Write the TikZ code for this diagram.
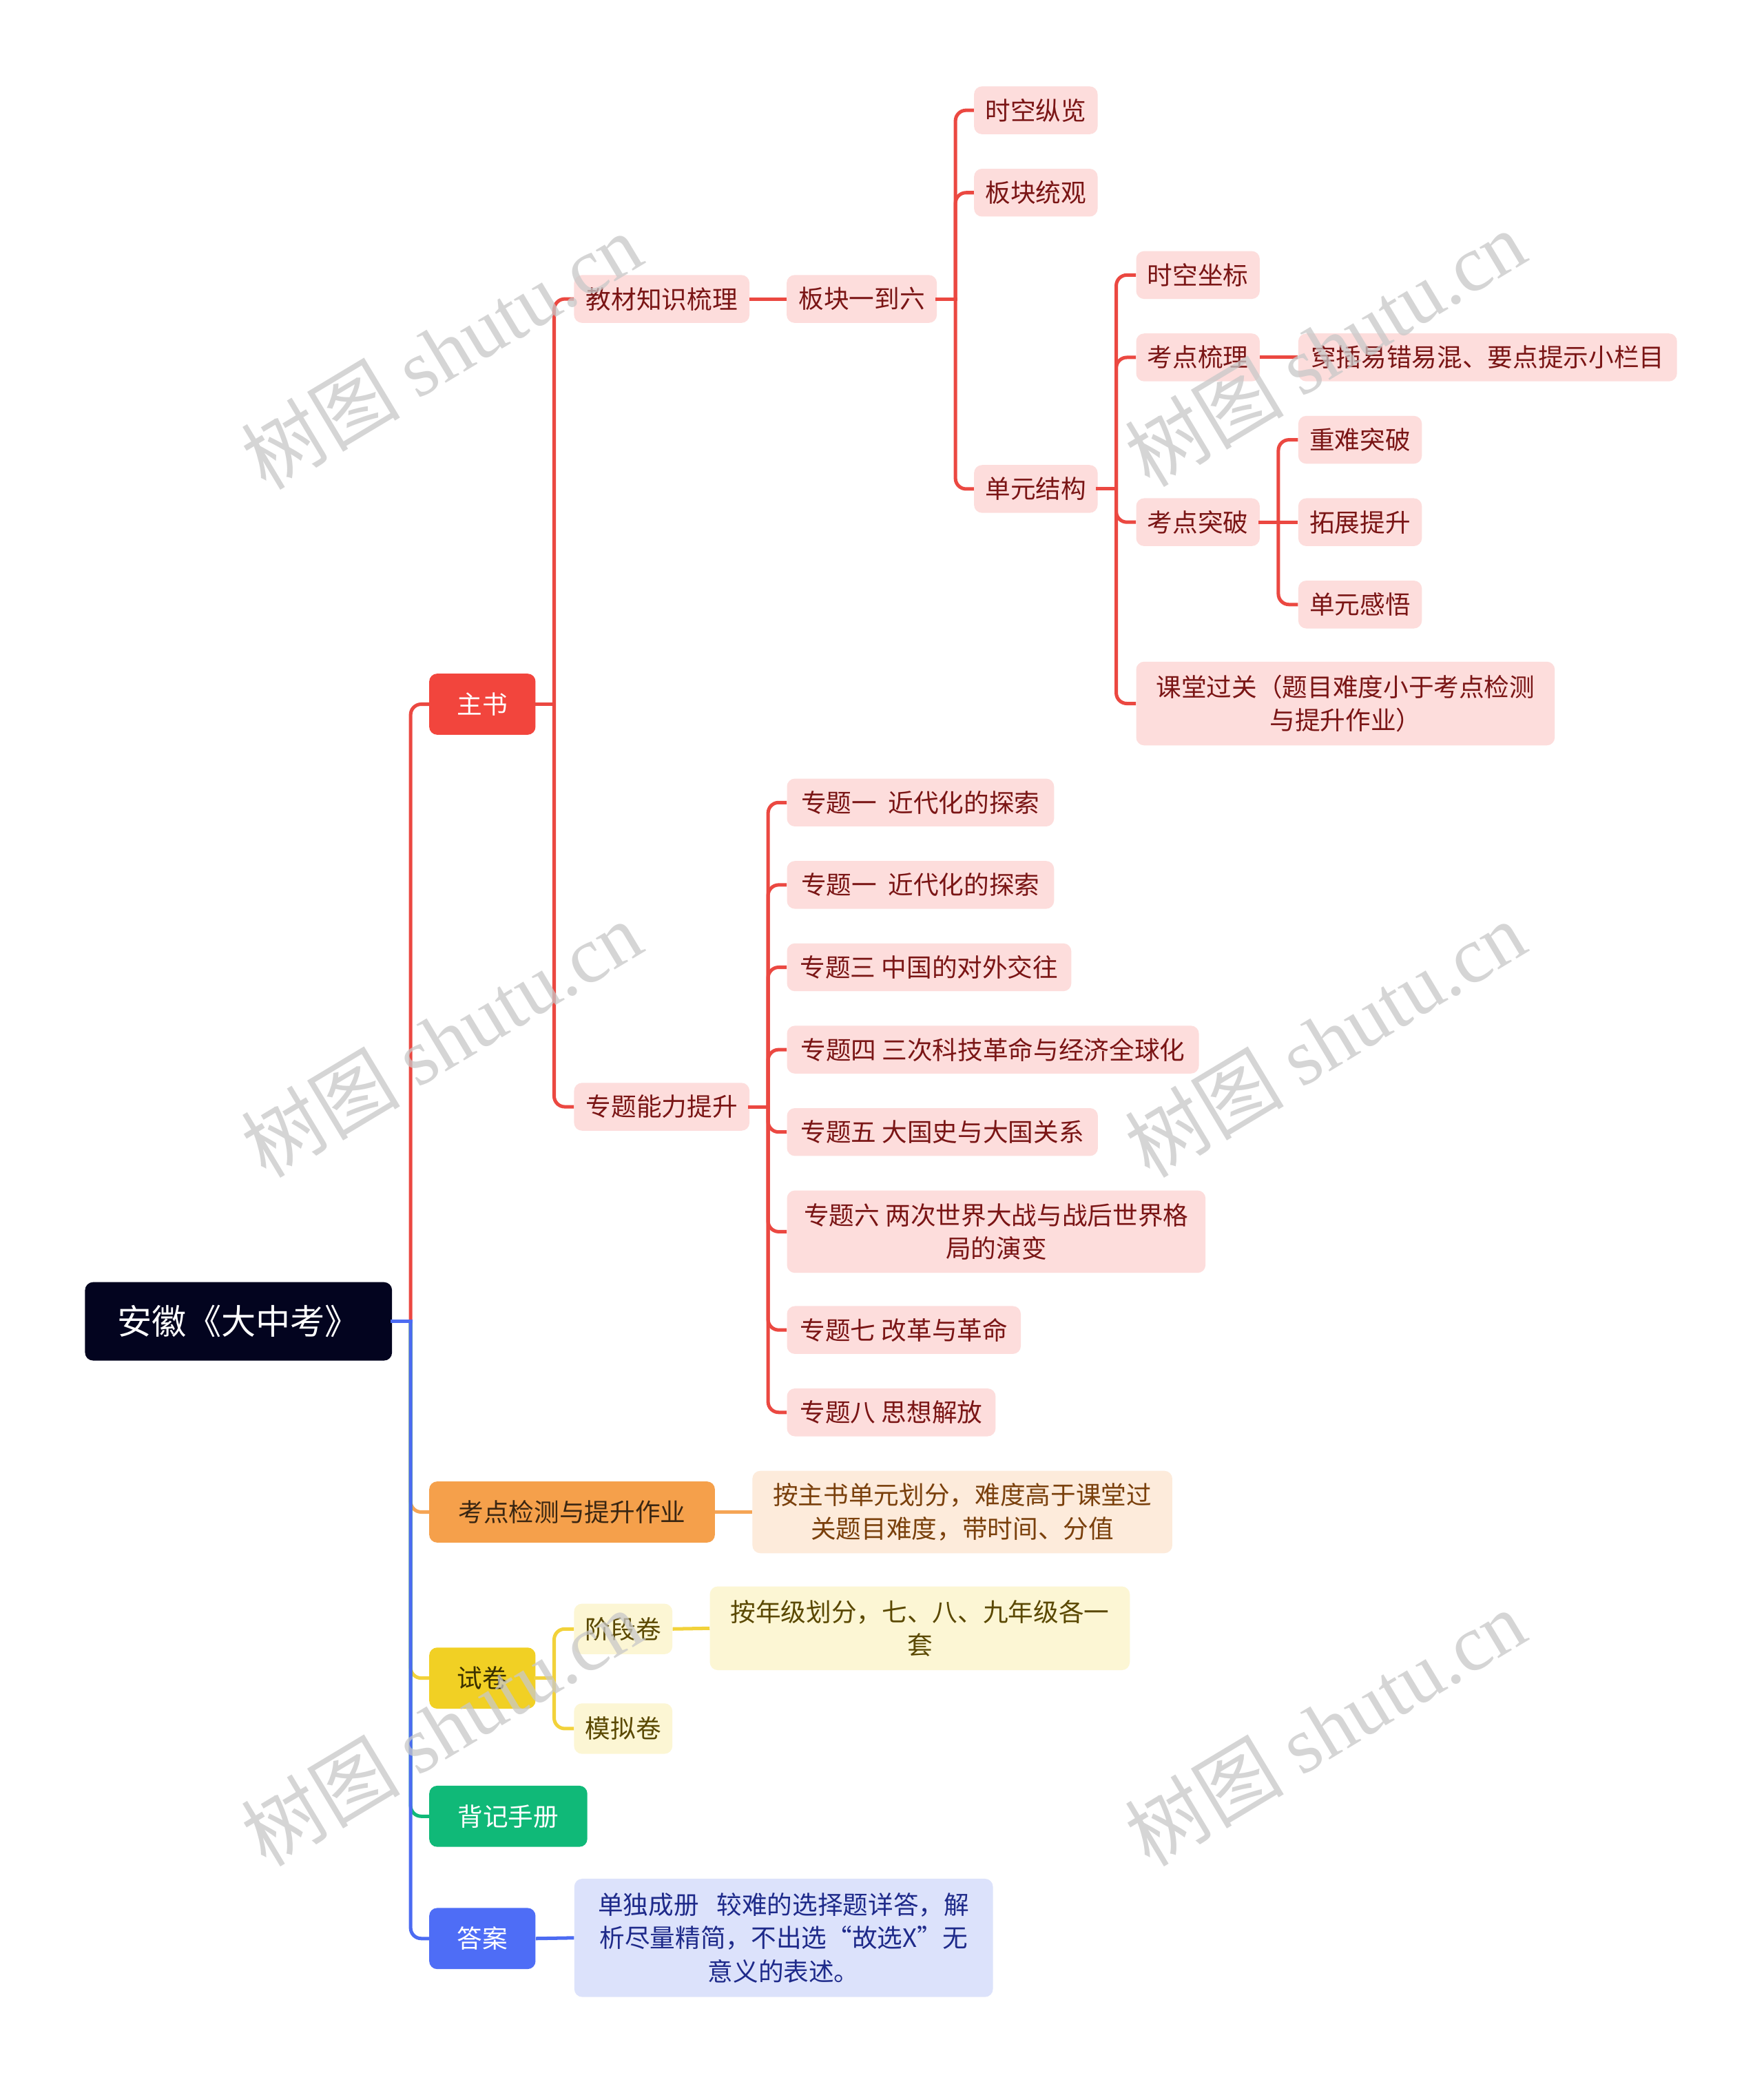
\documentclass[tikz,border=0pt]{standalone}
\usepackage{fontspec}
\setmainfont{Noto Sans CJK SC}
\newfontfamily\wmlat{Liberation Serif}
\definecolor{redE}{HTML}{EB4841}
\definecolor{redF}{HTML}{F2453D}
\definecolor{pinkF}{HTML}{FDDDDC}
\definecolor{pinkT}{HTML}{7A1515}
\definecolor{orangeE}{HTML}{F5A556}
\definecolor{orangeF}{HTML}{F5A04B}
\definecolor{orangeT}{HTML}{3A2612}
\definecolor{peachF}{HTML}{FDEBDB}
\definecolor{peachT}{HTML}{7A400C}
\definecolor{yellowE}{HTML}{F2D23A}
\definecolor{yellowF}{HTML}{F1D024}
\definecolor{yellowT}{HTML}{3A3000}
\definecolor{lyF}{HTML}{FCF6D4}
\definecolor{lyT}{HTML}{5A4800}
\definecolor{greenF}{HTML}{10B978}
\definecolor{blueE}{HTML}{4C6BF2}
\definecolor{blueF}{HTML}{4E6DF6}
\definecolor{lbF}{HTML}{DCE2FB}
\definecolor{lbT}{HTML}{1E2A8A}
\definecolor{rootF}{HTML}{03041F}
\definecolor{wmC}{HTML}{C8C8C8}
\newcommand\fs{\fontsize{19pt}{25pt}\selectfont}
\tikzset{
  box/.style={rounded corners=6pt, inner sep=0pt, align=center, font=\fs},
  pk/.style={box, fill=pinkF, text=pinkT, minimum height=36pt},
  lv1/.style={box, minimum height=46pt},
  edge/.style={line width=2.6pt, rounded corners=8pt},
  stub/.style={line width=2.6pt, line cap=rect},
  wm/.style={text=wmC, opacity=0.75, rotate=31, font=\fontsize{60pt}{62pt}\selectfont, inner sep=0pt}
}
\begin{document}
\begin{tikzpicture}[x=1pt,y=-1pt]
\useasboundingbox (0,0) rectangle (1327,1568.5);
\fill[white] (0,0) rectangle (1327,1568.5);

% root and level 1
\node[box, fill=rootF, text=white, minimum width=231pt, minimum height=59pt, font=\fontsize{26pt}{30pt}\selectfont] (root) at (179.5,994.5) {安徽《大中考》};
\node[lv1, fill=redF, text=white, minimum width=80pt] (zs) at (363,530) {主书};
\node[lv1, fill=orangeF, text=orangeT, minimum width=215pt] (kd) at (430.5,1138) {考点检测与提升作业};
\node[lv1, fill=yellowF, text=yellowT, minimum width=80pt] (sj) at (363,1263) {试卷};
\node[lv1, fill=greenF, text=white, minimum width=119pt] (bj) at (382.5,1367) {背记手册};
\node[lv1, fill=blueF, text=white, minimum width=80pt] (da) at (363,1459) {答案};

% 主书 subtree
\node[pk, minimum width=132pt] (jc) at (498,225) {教材知识梳理};
\node[pk, minimum width=132pt] (zt) at (498,833) {专题能力提升};
\node[pk, minimum width=113pt] (bk) at (648.5,225) {板块一到六};
\node[pk, minimum width=93pt] (sk) at (779.5,83) {时空纵览};
\node[pk, minimum width=93pt] (bt) at (779.5,145) {板块统观};
\node[pk, minimum width=93pt] (dy) at (779.5,368) {单元结构};
\node[pk, minimum width=93pt] (zb) at (901.5,207) {时空坐标};
\node[pk, minimum width=93pt] (sl) at (901.5,269) {考点梳理};
\node[pk, minimum width=285pt] (cc) at (1119.5,269) {穿插易错易混、要点提示小栏目};
\node[pk, minimum width=93pt] (tp) at (901.5,393) {考点突破};
\node[pk, minimum width=93pt] (zn) at (1023.5,331) {重难突破};
\node[pk, minimum width=93pt] (tz) at (1023.5,393) {拓展提升};
\node[pk, minimum width=93pt] (dg) at (1023.5,455) {单元感悟};
\node[pk, minimum width=315pt, minimum height=63pt] (kt) at (1012.5,529.5) {课堂过关（题目难度小于考点检测\\与提升作业）};

\node[pk, anchor=west, minimum width=201pt] (z1) at (592,604) {专题一~~近代化的探索};
\node[pk, anchor=west, minimum width=201pt] (z2) at (592,666) {专题一~~近代化的探索};
\node[pk, anchor=west, minimum width=214pt] (z3) at (592,728) {专题三 中国的对外交往};
\node[pk, anchor=west, minimum width=310pt] (z4) at (592,790) {专题四 三次科技革命与经济全球化};
\node[pk, anchor=west, minimum width=234pt] (z5) at (592,852) {专题五 大国史与大国关系};
\node[pk, anchor=west, minimum width=315pt, minimum height=62pt] (z6) at (592,927) {专题六 两次世界大战与战后世界格\\局的演变};
\node[pk, anchor=west, minimum width=176pt] (z7) at (592,1001) {专题七 改革与革命};
\node[pk, anchor=west, minimum width=157pt] (z8) at (592,1063) {专题八 思想解放};

% other subtrees
\node[box, anchor=west, fill=peachF, text=peachT, minimum width=316pt, minimum height=62pt] (kdn) at (566,1138) {按主书单元划分，难度高于课堂过\\关题目难度，带时间、分值};
\node[box, fill=lyF, text=lyT, minimum width=74pt, minimum height=38pt] (jd) at (469,1226) {阶段卷};
\node[box, fill=lyF, text=lyT, minimum width=74pt, minimum height=38pt] (mn) at (469,1301) {模拟卷};
\node[box, anchor=west, fill=lyF, text=lyT, minimum width=316pt, minimum height=63pt] (jdn) at (534,1225.5) {按年级划分，七、八、九年级各一\\套};
\node[box, anchor=west, fill=lbF, text=lbT, minimum width=315pt, minimum height=89pt] (dan) at (432,1458.5) {单独成册\hspace{0.7em}较难的选择题详答，解\\析尽量精简，不出选“故选X”无\\意义的表述。};

% junction coordinates
\coordinate (rT) at (309,994.5);
\coordinate (zsT) at (417,530);
\coordinate (bkT) at (719,225);
\coordinate (dyT) at (840,368);
\coordinate (tpT) at (962,393);
\coordinate (ztT) at (578,833);
\coordinate (sjT) at (417,1263);

% connectors: 主书 subtree (red)
\begin{scope}[draw=redE]
\draw[edge] (rT) |- (zs.west);
\draw[stub] (zs.east) -- (zsT);
\draw[edge] (zsT) |- (jc.west);
\draw[edge] (zsT) |- (zt.west);
\draw[edge] (jc.east) -- (bk.west);
\draw[stub] (bk.east) -- (bkT);
\draw[edge] (bkT) |- (sk.west);
\draw[edge] (bkT) |- (bt.west);
\draw[edge] (bkT) |- (dy.west);
\draw[stub] (dy.east) -- (dyT);
\draw[edge] (dyT) |- (zb.west);
\draw[edge] (dyT) |- (sl.west);
\draw[edge] (dyT) |- (tp.west);
\draw[edge] (dyT) |- (kt.west);
\draw[edge] (sl.east) -- (cc.west);
\draw[stub] (tp.east) -- (tpT);
\draw[edge] (tpT) |- (zn.west);
\draw[edge] (tpT) -- (tz.west);
\draw[edge] (tpT) |- (dg.west);
\draw[stub] (zt.east) -- (ztT);
\foreach \n in {z1,z2,z3,z4,z5,z6,z7,z8} \draw[edge] (ztT) |- (\n.west);
\end{scope}

% orange
\draw[edge, draw=orangeE] (rT) |- (kd.west);
\draw[edge, draw=orangeE] (kd.east) -- (kdn.west);
% yellow
\draw[edge, draw=yellowE] (rT) |- (sj.west);
\draw[stub, draw=yellowE] (sj.east) -- (sjT);
\draw[edge, draw=yellowE] (sjT) |- (jd.west);
\draw[edge, draw=yellowE] (sjT) |- (mn.west);
\draw[edge, draw=yellowE] (jd.east) -- (jdn.west);
% green
\draw[edge, draw=greenF] (rT) |- (bj.west);
% blue
\draw[edge, draw=blueE] (rT) |- (da.west);
\draw[stub, draw=blueE] (root.east) -- (rT);
\draw[edge, draw=blueE] (da.east) -- (dan.west);

% watermarks
\node[wm] (wm1) at (332,264) {树图 {\wmlat shutu.cn}};
\node[wm] (wm2) at (332,782) {树图 {\wmlat shutu.cn}};
\node[wm] (wm3) at (332,1300) {树图 {\wmlat shutu.cn}};
\node[wm] (wm4) at (997,262) {树图 {\wmlat shutu.cn}};
\node[wm] (wm5) at (997,782) {树图 {\wmlat shutu.cn}};
\node[wm] (wm6) at (997,1300) {树图 {\wmlat shutu.cn}};
\end{tikzpicture}
\end{document}
